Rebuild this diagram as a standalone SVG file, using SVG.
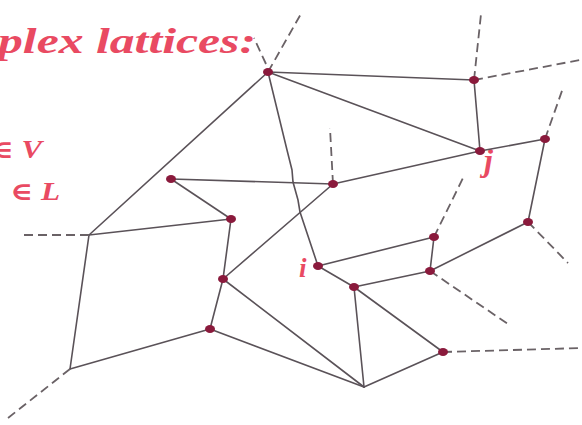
<svg xmlns="http://www.w3.org/2000/svg" width="582" height="425" viewBox="0 0 582 425">
<style>
.e{stroke:#5a5258;stroke-width:1.6;fill:none;stroke-linecap:round}
.d{stroke:#6a6266;stroke-width:1.8;fill:none;stroke-dasharray:9 5}
.n{fill:#8a1a3c}
.t{fill:#e94a62;font-family:"Liberation Serif","DejaVu Serif",serif;font-style:italic;font-weight:bold}
</style>
<rect width="582" height="425" fill="#ffffff"/>
<g id="labels">
<text class="t" x="-2" y="53" font-size="36" textLength="258" lengthAdjust="spacingAndGlyphs">plex lattices:</text>
<text class="t" x="-9" y="158" font-size="25" textLength="51" lengthAdjust="spacingAndGlyphs">∈ V</text>
<text class="t" x="10" y="200" font-size="25" textLength="50" lengthAdjust="spacingAndGlyphs">∈ L</text>
<text class="t" x="484" y="171" font-size="32">j</text>
<text class="t" x="299" y="277" font-size="27">i</text>
</g>
<g id="connectors">
<line class="e" x1="268" y1="72" x2="474" y2="80"/>
<line class="e" x1="268" y1="72" x2="480" y2="151"/>
<line class="e" x1="268" y1="72" x2="89" y2="235"/>
<polyline class="e" points="268,72 287,150 292,170 293,182 298,200 300,212 318,266"/>
<line class="e" x1="474" y1="80" x2="480" y2="151"/>
<line class="e" x1="480" y1="151" x2="545" y2="139"/>
<line class="e" x1="480" y1="151" x2="333" y2="184"/>
<line class="e" x1="545" y1="139" x2="528" y2="222"/>
<line class="e" x1="333" y1="184" x2="171" y2="179"/>
<line class="e" x1="333" y1="184" x2="223" y2="279"/>
<line class="e" x1="171" y1="179" x2="231" y2="219"/>
<line class="e" x1="231" y1="219" x2="89" y2="235"/>
<line class="e" x1="231" y1="219" x2="223" y2="279"/>
<line class="e" x1="223" y1="279" x2="210" y2="329"/>
<line class="e" x1="223" y1="279" x2="364" y2="387"/>
<line class="e" x1="210" y1="329" x2="70" y2="369"/>
<line class="e" x1="210" y1="329" x2="364" y2="387"/>
<line class="e" x1="89" y1="235" x2="70" y2="369"/>
<line class="e" x1="318" y1="266" x2="434" y2="237"/>
<line class="e" x1="318" y1="266" x2="354" y2="287"/>
<line class="e" x1="354" y1="287" x2="430" y2="271"/>
<line class="e" x1="354" y1="287" x2="364" y2="387"/>
<line class="e" x1="354" y1="287" x2="443" y2="352"/>
<line class="e" x1="434" y1="237" x2="430" y2="271"/>
<line class="e" x1="430" y1="271" x2="528" y2="222"/>
<line class="e" x1="443" y1="352" x2="364" y2="387"/>
<line class="d" x1="268" y1="72" x2="302" y2="12"/>
<line class="d" x1="266" y1="64" x2="254" y2="38"/>
<line class="d" x1="474" y1="80" x2="481" y2="14"/>
<line class="d" x1="474" y1="80" x2="580" y2="60"/>
<line class="d" x1="545" y1="139" x2="563" y2="88"/>
<line class="d" x1="333" y1="184" x2="330" y2="128"/>
<line class="d" x1="434" y1="237" x2="463" y2="178"/>
<line class="d" x1="430" y1="271" x2="508" y2="324"/>
<line class="d" x1="528" y1="222" x2="568" y2="263"/>
<line class="d" x1="443" y1="352" x2="582" y2="348"/>
<line class="d" x1="89" y1="235" x2="24" y2="235"/>
<line class="d" x1="70" y1="369" x2="8" y2="418"/>
</g>
<g id="nA"><ellipse class="n" cx="268" cy="72" rx="5" ry="4"/></g>
<g id="nB"><ellipse class="n" cx="474" cy="80" rx="5" ry="4"/></g>
<g id="nJ"><ellipse class="n" cx="480" cy="151" rx="5" ry="4"/></g>
<g id="nC"><ellipse class="n" cx="545" cy="139" rx="5" ry="4"/></g>
<g id="nD"><ellipse class="n" cx="333" cy="184" rx="5" ry="4"/></g>
<g id="nE"><ellipse class="n" cx="171" cy="179" rx="5" ry="4"/></g>
<g id="nF"><ellipse class="n" cx="231" cy="219" rx="5" ry="4"/></g>
<g id="nG"><ellipse class="n" cx="223" cy="279" rx="5" ry="4"/></g>
<g id="nH"><ellipse class="n" cx="210" cy="329" rx="5" ry="4"/></g>
<g id="nI"><ellipse class="n" cx="318" cy="266" rx="5" ry="4"/></g>
<g id="nK"><ellipse class="n" cx="354" cy="287" rx="5" ry="4"/></g>
<g id="nL"><ellipse class="n" cx="434" cy="237" rx="5" ry="4"/></g>
<g id="nM"><ellipse class="n" cx="430" cy="271" rx="5" ry="4"/></g>
<g id="nN"><ellipse class="n" cx="528" cy="222" rx="5" ry="4"/></g>
<g id="nO"><ellipse class="n" cx="443" cy="352" rx="5" ry="4"/></g>
</svg>
